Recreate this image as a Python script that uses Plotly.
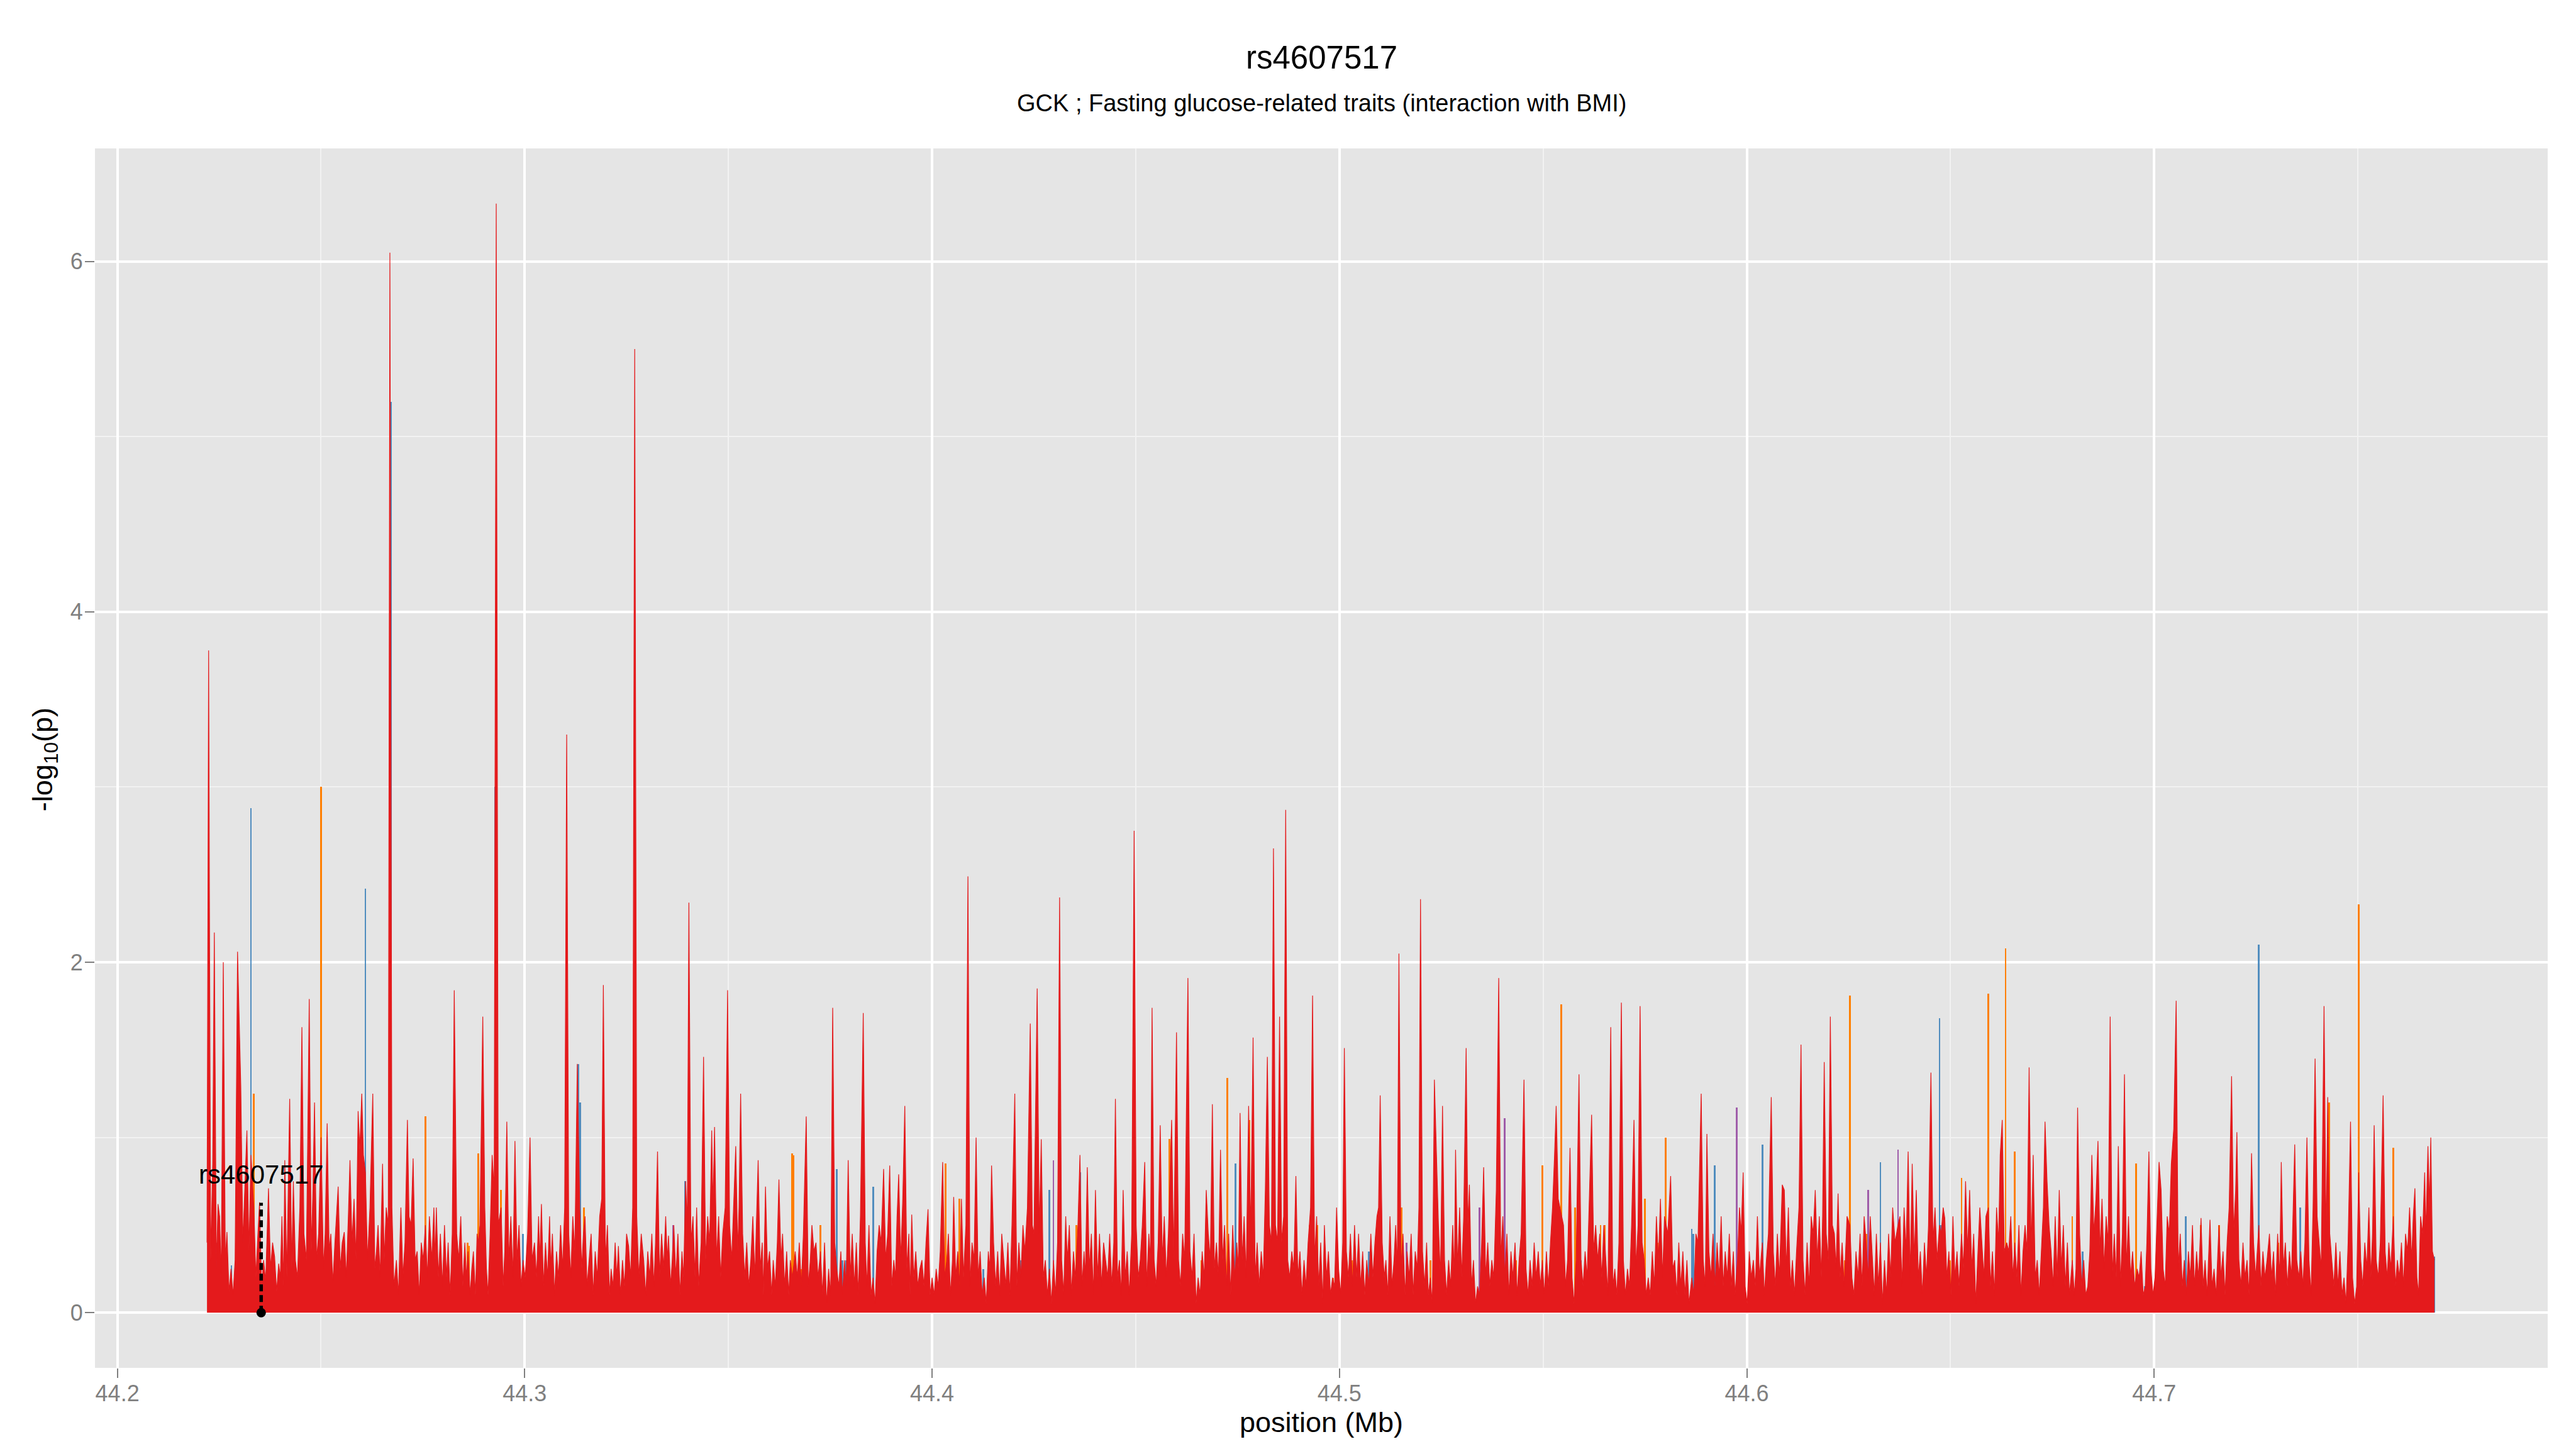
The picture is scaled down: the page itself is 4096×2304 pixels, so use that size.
import plotly.graph_objects as go

# ---------------- data ----------------
REGION_START_MB = 44.2          # positions below are kb offsets from 44.2 Mb
TITLE = "rs4607517"
SUBTITLE = "GCK ; Fasting glucose-related traits (interaction with BMI)"
X_TITLE = "position (Mb)"
Y_TITLE = "-log<sub>10</sub>(p)"
X_TICKS = [44.2, 44.3, 44.4, 44.5, 44.6, 44.7]
X_TICK_LABELS = ["44.2", "44.3", "44.4", "44.5", "44.6", "44.7"]
Y_TICKS = [0, 2, 4, 6]
Y_TICK_LABELS = ["0", "2", "4", "6"]
LEAD_SNP = "rs4607517"
LEAD_SNP_KB = 35.3
LEAD_SNP_STEM = 0.627
LEAD_LABEL_Y = 0.79

# red (low-LD) SNPs: (kb offset, -log10 p)
red_snps = [
    (22.0,.40),(22.4,3.78),(22.9,.30),(23.4,.85),(23.8,2.17),(24.3,.25),(24.7,.62),(25.1,.55),(25.5,.20),(26.0,2.00),
    (26.5,.30),(26.9,.46),(27.4,.12),(27.9,.25),(28.4,.10),(28.9,.30),(29.5,2.06),(30.3,1.29),(30.8,.40),(31.3,.70),
    (31.8,1.04),(32.3,.35),(32.8,.90),(33.5,.60),(34.0,.20),(34.5,.45),(34.9,.63),(35.4,.15),(35.9,.30),(36.4,.18),
    (37.1,.71),(37.6,.25),(38.1,.40),(38.6,.32),(39.1,.12),(39.6,.28),(40.0,.20),(40.4,.55),(40.8,.15),(41.1,.87),
    (41.6,.20),(42.3,1.22),(42.8,.25),(43.2,.75),(43.7,.30),(44.2,.20),(44.8,.60),(45.3,1.63),(45.8,.45),(46.4,.30),
    (47.1,1.79),(47.6,.35),(48.0,.70),(48.4,1.20),(48.9,.30),(49.4,.45),(50.0,1.00),(50.6,.25),(51.0,.45),(51.5,1.08),
    (52.0,.35),(52.4,.45),(52.9,.17),(53.4,.40),(53.8,.55),(54.2,.72),(54.7,.25),(55.2,.40),(55.7,.46),(56.2,.20),
    (56.7,.55),(57.1,.87),(57.6,.40),(58.1,.65),(58.6,.30),(59.1,1.15),(59.5,.93),(60.0,1.25),(60.4,.90),(60.9,.80),
    (61.4,.30),(62.0,.60),(62.7,1.25),(63.2,.25),(63.6,.35),(64.0,.50),(64.5,.20),(65.1,.85),(65.5,.30),(66.0,.60),
    (66.5,.50),(66.9,6.05),(67.4,.60),(67.9,.15),(68.5,.30),(69.0,.10),(69.6,.60),(70.1,.20),(70.6,.40),(71.2,1.10),
    (71.6,.55),(72.1,.50),(72.6,.88),(73.1,.30),(73.6,.35),(74.1,.10),(74.6,.40),(75.1,.30),(75.6,.50),(76.1,.20),
    (76.6,.55),(77.2,.30),(77.7,.60),(78.0,.30),(78.3,.60),(78.8,.20),(79.3,.45),(79.8,.15),(80.3,.50),(80.8,.20),
    (81.2,.40),(81.7,.10),(82.2,.45),(82.7,1.84),(83.3,.45),(83.8,.30),(84.3,.55),(84.8,.15),(85.3,.40),(85.7,.20),
    (86.1,.35),(86.6,.10),(87.0,.25),(87.4,.35),(87.9,.10),(88.3,.45),(88.6,.40),(89.0,.50),(89.7,1.69),(90.2,.60),
    (90.6,.25),(91.0,.10),(91.5,.45),(92.0,.90),(92.5,.70),(93.0,6.33),(93.5,.50),(94.2,.60),(94.7,.15),(95.1,.35),
    (95.6,1.09),(96.1,.30),(96.6,.55),(97.1,.20),(97.6,.98),(98.1,.30),(98.6,.50),(99.1,.15),(99.6,.30),(100.1,.20),
    (100.7,.45),(101.3,1.00),(101.8,.30),(102.4,.40),(102.9,.20),(103.4,.55),(103.7,.30),(104.1,.62),(104.6,.15),(105.1,.40),
    (105.6,.20),(106.1,.55),(106.4,.25),(106.8,.45),(107.3,.10),(107.8,.35),(108.3,.20),(108.8,.50),(109.3,.25),(109.8,.60),
    (110.3,3.30),(110.8,.45),(111.3,.20),(111.8,.55),(112.3,.35),(112.9,1.42),(113.5,.60),(114.0,.25),(114.4,.45),(114.8,.55),
    (115.3,.15),(115.8,.30),(116.3,.45),(116.8,.10),(117.3,.35),(117.8,.20),(118.4,.55),(118.9,.65),(119.3,1.87),(119.8,.30),
    (120.3,.50),(120.8,.10),(121.2,.25),(121.7,.15),(122.2,.40),(122.6,.20),(123.0,.38),(123.5,.10),(124.0,.30),(124.5,.15),
    (125.0,.45),(125.5,.38),(126.0,.20),(126.5,.60),(127.0,5.50),(127.5,.55),(128.0,.20),(128.6,.45),(129.2,.30),(129.7,.10),
    (130.2,.35),(130.7,.20),(131.2,.45),(131.7,.15),(132.1,.40),(132.6,.92),(133.1,.20),(133.6,.45),(134.1,.25),(134.6,.55),
    (135.0,.30),(135.3,.44),(135.8,.15),(136.2,.30),(136.6,.50),(137.1,.20),(137.6,.45),(138.1,.10),(138.6,.35),(139.0,.20),
    (139.5,.75),(139.9,.50),(140.3,2.34),(140.8,.40),(141.3,.55),(141.8,.20),(142.2,.60),(142.7,.15),(143.3,.40),(143.9,1.46),
    (144.4,.30),(144.9,.55),(145.4,.40),(145.9,1.04),(146.2,.60),(146.6,1.06),(147.1,.30),(147.6,.55),(148.1,.20),(148.6,.45),
    (149.2,.60),(149.8,1.84),(150.3,.50),(150.8,.30),(151.3,.60),(151.8,.95),(152.3,.35),(152.6,.60),(153.0,1.25),(153.5,.45),
    (154.0,.20),(154.5,.40),(155.0,.15),(155.5,.30),(156.0,.55),
    (156.5,.20),(157.3,.87),(157.8,.25),(158.3,.40),(158.6,.10),(159.1,.72),(159.6,.25),(160.1,.35),(160.6,.10),(161.0,.30),
    (161.5,.15),(162.0,.40),(162.4,.76),(162.9,.30),(163.3,.45),(163.8,.15),(164.3,.35),(164.8,.10),(165.2,.30),(165.7,.20),
    (166.4,.35),(166.9,.20),(167.4,.40),(167.9,.15),(168.4,.45),(169.1,1.12),(169.6,.15),(170.1,.30),(170.5,.50),(171.0,.35),
    (171.5,.40),(172.0,.20),(172.6,.35),(173.1,.10),(173.6,.40),(174.1,.05),(174.6,.25),(175.1,.10),(175.6,1.74),(176.1,.40),
    (176.6,.25),(177.1,.15),(177.6,.35),(178.0,.10),(178.5,.30),(178.9,.15),(179.4,.87),(179.9,.20),(180.4,.45),(180.9,.15),
    (181.4,.40),(181.9,.10),(182.4,.55),(183.1,1.71),(183.6,.40),(184.0,.15),(184.5,.50),(185.0,.10),(185.5,.20),(186.0,.05),
    (186.5,.35),(187.0,.50),(187.5,.40),(188.1,.82),(188.6,.30),(189.1,.45),(189.6,.84),(190.1,.15),(190.6,.30),(191.0,.20),
    (191.4,.55),(191.8,.79),(192.3,.30),(192.8,.65),(193.3,1.18),(193.8,.25),(194.3,.45),(194.6,.10),(195.0,.56),(195.5,.20),
    (196.0,.35),(196.5,.15),(197.0,.25),(197.5,.30),(198.0,.15),(198.5,.40),(199.0,.59),(199.5,.10),(200.0,.20),(200.5,.10),
    (201.0,.25),(201.5,.15),(202.0,.35),(202.6,.86),(203.1,.20),(203.6,.30),(204.0,.45),(204.5,.10),(205.0,.30),(205.3,.66),
    (205.8,.20),(206.3,.35),(206.8,.15),(207.2,.65),(207.7,.20),(208.3,.50),(208.8,2.49),(209.3,.15),(209.8,.40),(210.3,.30),
    (210.8,1.00),(211.3,.20),(211.8,.35),(212.3,.10),(212.8,.20),(213.3,.05),(213.8,.35),(214.2,.25),(214.6,.84),(215.1,.40),
    (215.6,.15),(216.1,.35),(216.6,.10),(217.1,.45),(217.6,.30),(218.1,.15),(218.6,.40),(219.1,.10),(219.6,.50),(220.3,1.25),
    (220.8,.15),(221.3,.40),(221.8,.20),(222.3,.50),(222.8,.35),(223.4,.60),(224.1,1.65),(224.6,.50),(225.0,.45),(225.8,1.85),
    (226.3,.45),(226.8,.99),(227.3,.20),(227.8,.30),(228.3,.10),(228.8,.25),(229.3,.05),(229.8,.30),(230.3,.10),(230.8,.40),
    (231.3,2.37),(231.8,.30),(232.3,.10),(232.8,.55),(233.2,.30),(233.7,.50),(234.2,.10),(234.7,.35),(235.2,.20),(235.8,.50),
    (236.3,.90),(236.8,.15),(237.3,.35),(237.6,.20),(238.1,.83),(238.6,.25),(239.1,.45),(239.6,.10),(240.1,.70),(240.6,.20),
    (241.1,.45),(241.6,.15),(242.1,.40),(242.6,.30),(243.1,.20),(243.6,.45),(244.1,.15),(244.6,.40),(245.0,1.22),(245.5,.20),
    (246.0,.30),(246.4,.10),(246.9,.70),(247.4,.20),(247.9,.35),(248.4,.10),(249.0,.45),(249.6,2.75),(250.1,.50),(250.6,.20),
    (251.1,.30),(251.6,.50),(252.2,.86),(252.7,.15),(253.2,.45),(253.6,.30),(254.0,1.74),(254.5,.30),(255.0,.15),(255.5,.40),
    (256.0,1.07),(256.5,.30),(257.0,.55),(257.5,.20),(258.0,.45),(258.8,1.10),(259.3,.30),(260.0,1.60),(260.5,.30),(261.0,.15),
    (261.5,.45),(262.0,.30),(262.8,1.91),(263.3,.35),(263.8,.20),(264.3,.45),(264.8,.05),(265.3,.20),(265.8,.10),(266.3,.35),
    (266.8,.20),(267.3,.70),(267.8,.45),(268.3,.30),(268.8,1.19),(269.3,.25),(269.8,.40),(270.3,.20),(270.8,.93),(271.3,.30),
    (271.8,.50),(272.3,.15),(272.8,.45),(273.3,.10),(273.8,.50),(274.3,.20),(274.8,.40),(275.2,.25),(275.6,1.14),(276.1,.30),
    (276.6,.55),(277.1,.20),(277.7,1.18),(278.2,.45),(278.8,1.57),(279.3,.20),(279.8,.40),(280.3,.15),(280.8,.35),(281.3,.20),
    (281.8,.70),(282.3,1.46),(282.8,.50),(283.3,.40),(283.8,2.65),(284.3,.50),(284.8,.40),(285.3,1.69),(285.8,.40),(286.3,.55),
    (286.8,2.87),(287.3,.30),(287.8,.20),(288.3,.35),(288.8,.25),(289.3,.78),(289.8,.20),(290.3,.35),(290.8,.10),(291.3,.30),
    (291.8,.15),(292.3,.40),(292.9,.60),(293.4,1.81),
    (293.9,.30),(294.4,.55),(294.9,.15),(295.4,.40),(295.9,.05),(296.3,.50),(296.8,.20),(297.3,.35),(297.8,.10),(298.3,.20),
    (298.8,.15),(299.3,.60),(299.8,.25),(300.3,.10),(300.8,.40),(301.2,1.51),(301.7,.35),(302.2,.20),(302.7,.45),(303.2,.15),
    (303.7,.50),(304.2,.20),(304.7,.45),(305.2,.15),(305.7,.35),(306.2,.10),(306.7,.30),(307.2,.15),(307.7,.45),(308.2,.20),
    (308.7,.40),(309.2,.55),(309.6,.60),(310.0,1.24),(310.5,.40),(311.0,.20),(311.4,.30),(311.9,.10),(312.4,.55),(312.9,.15),
    (313.4,.30),(313.8,.50),(314.2,.25),(314.6,2.05),(315.1,.25),(315.6,.45),(316.1,.10),(316.6,.35),(317.1,.20),(317.6,.45),
    (318.1,.10),(318.6,.35),(319.1,.25),(319.5,.60),(319.9,2.36),(320.4,.35),(320.9,.15),(321.4,.40),(321.8,.10),(322.3,.20),
    (322.8,.05),(323.3,1.33),(323.8,.90),(324.3,.50),(324.8,.20),(325.3,1.18),(325.8,.30),(326.3,.10),(326.8,.30),(327.3,.15),
    (327.8,.50),(328.2,.20),(328.5,.93),(329.0,.25),(329.5,.60),(330.0,.20),(330.5,.55),(331.1,1.51),(331.5,.50),(331.9,.73),
    (332.4,.15),(332.9,.30),(333.4,.05),(333.9,.15),(334.4,.10),(334.9,.40),(335.4,.83),(335.9,.20),(336.4,.40),(336.9,.15),
    (337.4,.30),(337.9,.20),(338.5,.70),(339.1,1.91),(339.6,.30),(340.1,.55),(340.6,.20),(341.1,.45),(341.6,.10),(342.1,.35),
    (342.6,.20),(343.1,.40),(343.6,.10),(344.1,.30),(344.6,.45),(345.3,1.33),(345.8,.25),(346.3,.10),(346.8,.30),(347.3,.15),
    (347.8,.40),(348.3,.20),(348.8,.35),(349.3,.15),(349.8,.30),(350.3,.10),(350.8,.35),(351.3,.15),(351.8,.40),(352.3,.60),
    (352.8,.90),(353.2,1.18),(353.7,.65),(354.1,.60),(355.0,.50),(355.5,.15),(356.0,.30),(356.6,.94),(357.1,.20),(357.6,.05),
    (358.1,.30),(358.8,1.36),(359.3,.30),(359.8,.15),(360.3,.35),(360.8,.20),(361.3,.65),(361.9,1.13),(362.4,.35),(362.9,.50),
    (363.4,.30),(363.9,.45),(364.4,.20),(364.9,.50),(365.4,.30),(365.9,.10),(366.6,1.63),(367.1,.15),(367.6,.25),(368.1,.10),
    (368.6,.40),(369.2,1.77),(369.7,.30),(370.2,.10),(370.7,.25),(371.2,.15),(371.7,.50),(372.3,1.10),(372.8,.25),(373.3,.50),
    (373.8,1.75),(374.3,.40),(374.8,.30),(375.3,.10),(375.8,.20),(376.3,.10),(376.8,.35),(377.3,.15),(377.8,.55),(378.3,.30),
    (378.8,.65),(379.3,.20),(379.8,.55),(380.6,.45),(381.3,.78),(381.8,.25),(382.3,.30),(382.8,.10),(383.3,.40),(383.8,.15),
    (384.3,.35),(384.8,.10),(385.3,.30),(385.8,.05),(386.5,.20),(387.0,.10),(387.5,.45),(388.0,.40),(388.8,1.25),(389.3,.30),
    (389.8,.15),(390.2,1.02),(390.7,.35),(391.2,.20),(391.7,.45),(392.2,.15),(392.7,.40),(393.2,.20),(393.7,.55),(394.2,.15),
    (394.7,.35),(395.2,.20),(395.7,.45),(396.2,.15),(396.7,.35),(397.1,.10),(397.7,.30),(398.2,.60),(398.6,.45),(399.1,.80),
    (399.6,.15),(400.1,.05),(400.6,.35),(401.1,.20),(401.6,.30),(402.1,.15),(402.6,.55),(403.1,.20),(403.8,.40),(404.3,.10),
    (404.8,.30),(405.3,.45),(406.0,1.23),(406.5,.35),(407.0,.15),(407.5,.45),(408.0,.20),(408.7,.73),(409.2,.70),(409.7,.25),
    (410.2,.60),(410.7,.15),(411.2,.30),(411.7,.10),(412.2,.35),(412.8,.60),(413.3,1.53),(413.8,.30),(414.3,.10),(414.8,.40),
    (415.3,.15),(415.8,.55),(416.3,.45),(416.8,.70),(417.3,.30),(417.8,.55),(418.3,.20),(418.6,.55),(419.0,1.43),(419.5,.45),
    (420.0,.30),(420.5,1.69),(421.0,.50),(421.5,.45),(421.9,.25),(422.4,.68),(422.9,.20),(423.4,.40),(423.9,.15),(424.6,.55),
    (425.3,.50),(425.8,.20),(426.3,.10),(426.8,.35),(427.3,.20),(427.8,.45),(428.3,.15),(428.8,.55),(429.3,.40),(429.8,.20),
    (430.3,.55),
    (430.8,.30),(431.3,.10),(431.8,.45),(432.3,.15),(432.8,.40),(433.3,.05),(433.8,.30),(434.3,.10),(434.8,.45),(435.3,.20),
    (435.8,.60),(436.4,.40),(437.1,.50),(437.6,.55),(438.1,.15),(438.6,.60),(439.1,.35),(439.6,.92),(440.1,.20),(440.6,.85),
    (441.1,.30),(441.6,.70),(442.1,.20),(442.6,.35),(443.1,.10),(443.6,.40),(444.1,.20),(444.6,.50),(445.2,1.37),(445.7,.40),
    (446.2,.60),(446.7,.30),(447.3,.50),(447.7,.45),(448.2,.60),(448.6,.54),(449.1,.20),(449.6,.35),(450.1,.10),(450.6,.55),
    (451.1,.20),(451.6,.35),(452.1,.15),(452.7,.45),(453.2,.25),(453.7,.75),(454.2,.35),(454.7,.70),(455.2,.25),(455.7,.45),
    (456.2,.05),(456.7,.30),(457.2,.60),(457.7,.40),(458.2,.20),(458.7,.55),(459.3,.60),(459.8,.15),(460.3,.35),(460.8,.10),
    (461.3,.60),(461.8,.40),(462.2,.90),(462.7,1.10),(463.2,.35),(463.8,.40),(464.3,.35),(464.8,.55),(465.3,.20),(465.8,.40),
    (466.3,.20),(466.8,.50),(467.3,.10),(467.8,.35),(468.3,.50),(468.8,.35),(469.3,1.40),(469.8,.35),(470.3,.90),(470.8,.20),
    (471.3,.30),(471.8,.10),(472.3,.35),(472.8,.60),(473.2,1.09),(473.7,.75),(474.2,.50),(474.7,.35),(475.2,.15),(475.7,.55),
    (476.2,.20),(476.7,.70),(477.2,.25),(477.7,.50),(478.2,.15),(478.7,.40),(479.2,.10),(479.9,.30),(480.4,.10),(480.8,.25),
    (481.2,1.17),(481.7,.45),(482.2,.15),(482.7,.30),(483.2,.10),(483.7,.15),(484.2,.35),(484.7,.90),(485.2,.45),(485.7,.65),
    (486.2,.98),(486.7,.35),(487.2,.65),(487.7,.25),(488.2,.55),(488.7,.40),(489.2,1.69),(489.7,.20),(490.2,.45),(490.7,.20),
    (491.2,.95),(491.7,.15),(492.2,.45),(492.7,1.36),(493.2,.25),(493.7,.55),(494.2,.20),(494.7,.35),(495.2,.15),(495.8,.25),
    (496.3,.20),(496.8,.35),(497.3,.10),(497.8,.15),(498.2,.40),(498.7,.92),(499.2,.25),(499.7,.10),(500.2,.20),(500.7,.55),
    (501.2,.86),(501.7,.70),(502.2,.25),(502.7,.15),(503.2,.55),(503.7,.45),(504.2,.85),(504.8,1.05),(505.4,1.78),(505.9,.25),
    (506.4,.45),(506.9,.15),(507.4,.30),(507.9,.10),(508.4,.35),(508.9,.20),(509.4,.50),(509.9,.15),(510.4,.35),(510.9,.20),
    (511.5,.54),(512.0,.15),(512.5,.30),(513.0,.10),(513.7,.53),(514.2,.15),(514.7,.25),(515.2,.10),(515.9,.50),(516.4,.20),
    (516.9,.35),(517.4,.10),(517.9,.40),(518.4,.60),(519.0,1.35),(519.5,.45),(520.0,.70),(520.3,1.03),(520.8,.30),(521.3,.15),
    (521.8,.40),(522.3,.20),(522.8,.30),(523.3,.10),(523.9,.91),(524.4,.40),(524.9,.20),(525.7,.50),(526.2,.15),(526.7,.35),
    (527.2,.20),(527.7,.30),(528.3,.45),(528.8,.20),(529.3,.35),(529.8,.10),(530.3,.45),(530.8,.20),(531.2,.86),(531.7,.25),
    (532.2,.40),(532.7,.15),(533.2,.35),(533.7,.20),(534.1,.55),(534.5,.96),(535.0,.30),(535.5,.20),(536.0,.35),(536.5,.15),
    (537.0,.40),(537.5,1.00),(538.0,.30),(538.5,.10),(539.0,.60),(539.5,1.45),(540.0,.55),(540.5,.40),(541.0,.25),(541.7,1.75),
    (542.2,.40),(542.6,1.23),(543.1,.45),(543.6,.30),(544.1,.15),(544.6,.40),(545.1,.15),(545.6,.35),(546.1,.10),(546.6,.20),
    (547.1,.05),(547.6,.40),(548.2,1.09),(548.7,.20),(549.2,.05),(549.7,.15),(550.2,.80),(550.7,.30),(551.2,.15),(551.7,.40),
    (552.2,.25),(552.7,.60),(553.2,.20),(553.6,.45),(554.0,1.07),(554.5,.30),(555.0,.20),(555.5,.40),(556.2,1.24),(556.7,.35),
    (557.2,.20),(557.6,.40),(558.1,.25),(558.7,.55),(559.2,.15),(559.7,.30),(560.2,.20),(560.7,.40),(561.2,.15),(561.7,.45),
    (562.2,.35),(562.7,.60),(563.2,.30),(563.6,.55),(564.0,.71),(564.5,.20),(564.9,.10),(565.4,.55),(565.9,.45),(566.4,.80),
    (566.7,.45),(567.2,.95),(567.6,.60),(567.9,1.00),(568.3,.35),(568.8,.30),
]

blue_snps = [
    (23.3,.55),(28.0,.27),(30.9,.45),(32.8,2.88),(39.7,.20),(47.3,.30),(52.1,.20),(60.9,2.42),(67.1,5.20),(92.7,3.00),
    (99.6,.45),(113.1,1.42),(113.6,1.20),(135.6,.10),(137.7,.30),(139.4,.75),(149.3,.10),(156.9,.10),
    (176.6,.82),(178.0,.30),(178.9,.30),(185.5,.72),(212.6,.25),(221.7,.30),(228.8,.70),(236.4,.80),(243.0,.15),(274.5,.85),
    (279.2,.30),(307.2,.35),(329.1,.25),(351.9,.20),(359.2,.30),(386.5,.48),(386.9,.45),(392.1,.84),(395.2,.20),(403.9,.96),
    (413.3,.30),(432.8,.86),(447.3,1.68),(447.7,.50),(452.3,.10),(468.8,.20),(482.4,.35),(486.9,.20),(497.7,.15),(507.8,.55),
    (514.4,.10),(525.1,.10),(525.7,2.10),(535.8,.60),(557.6,.30),(564.9,.10),(566.7,.45),(568.8,.32),
]

orange_snps = [
    (31.3,.30),(33.5,1.25),(42.4,.60),(50.0,3.00),(75.2,.25),(75.6,1.12),(86.0,.40),(86.3,.38),(88.6,.91),(94.1,.70),
    (106.4,.30),(114.5,.60),(140.6,.35),(159.3,.40),(165.6,.91),(166.0,.90),(167.9,.25),(172.6,.50),(180.0,.20),(188.7,.15),
    (190.9,.20),(195.4,.20),(197.2,.15),(203.3,.85),(206.7,.65),(235.4,.50),(239.6,.10),(254.7,.10),(258.3,.99),(266.1,.30),
    (269.9,.15),(272.5,1.34),(277.9,1.10),(288.2,.10),(292.7,.50),(294.5,.50),(298.5,.20),(301.6,.10),(303.1,.30),(312.5,.10),
    (315.2,.60),(322.3,.30),(343.4,.30),(349.8,.84),(354.2,.50),(354.5,1.76),(357.8,.60),(362.3,.15),(364.1,.50),(365.1,.50),
    (367.2,.10),(368.5,.15),(375.0,.65),(378.1,.40),(380.1,1.00),(387.5,.20),(389.6,.20),(405.3,.10),(415.0,.10),(416.9,.10),
    (424.1,.30),(425.3,1.81),(429.3,.45),(440.0,.20),(441.6,.20),(442.6,.10),(449.9,.30),(452.7,.77),(459.3,1.82),(460.4,.10),
    (463.0,.35),(463.5,2.08),(465.8,.92),(479.9,.55),(491.9,.10),(495.6,.85),(511.5,.50),(515.9,.50),(519.8,.35),(522.5,.10),
    (530.5,.40),(542.0,.30),(543.0,1.20),(550.2,2.33),(558.7,.94),
]

purple_snps = [
    (24.4,.40),(136.5,.50),(229.8,.87),(316.5,.40),(334.4,.60),(340.5,1.11),(397.5,1.17),(429.8,.70),(436.4,.40),(437.1,.93),
    (456.2,.05),(471.8,.10),
]

green_snps = [(399.9,.06)]

# ---------------- figure ----------------
S = 0.853
W, H = 4096, 2304
FONT = "Liberation Sans, Arial, Helvetica, sans-serif"

RED = "#E41A1C"
BLUE = "#377EB8"
ORANGE = "#FF7F00"
PURPLE = "#984EA3"
GREEN = "#4DAF4A"

# panel edges in reference pixels (4800x2700), scaled to the window
REF_L, REF_R, REF_T, REF_B = 168, 4740, 267, 2541
pl, pr = REF_L * S, REF_R * S
pt, pb = REF_T * S, REF_B * S


def px_x(ref_x):   # reference x pixel -> paper x
    return (ref_x - REF_L) / (REF_R - REF_L)


def px_y(ref_y):   # reference y pixel -> paper y
    return (REF_B - ref_y) / (REF_B - REF_T)


def to_mb(kb_list):
    return [REGION_START_MB + k / 1000.0 for k in kb_list]


fig = go.Figure()

fig.add_trace(go.Scatter(
    x=to_mb([p for p, v in red_snps]), y=[v for p, v in red_snps],
    mode="lines", fill="tozeroy", fillcolor=RED,
    line=dict(color=RED, width=1.2), hoverinfo="skip", showlegend=False,
))

bar_w = 0.00042
for snps, col, op in [(orange_snps, ORANGE, 1.0), (blue_snps, BLUE, 0.85),
                      (purple_snps, PURPLE, 0.9), (green_snps, GREEN, 1.0)]:
    fig.add_trace(go.Bar(
        x=to_mb([p for p, v in snps]), y=[v for p, v in snps],
        width=bar_w, marker=dict(color=col, line=dict(width=0)),
        opacity=op, hoverinfo="skip", showlegend=False,
    ))

# lead SNP marker: dashed stem + point
lead_x = REGION_START_MB + LEAD_SNP_KB / 1000.0
fig.add_trace(go.Scatter(
    x=[lead_x, lead_x], y=[0, LEAD_SNP_STEM], mode="lines",
    line=dict(color="black", width=5.5, dash="11px,6px"),
    hoverinfo="skip", showlegend=False,
))
fig.add_trace(go.Scatter(
    x=[lead_x], y=[0], mode="markers",
    marker=dict(color="black", size=15, line=dict(width=0)),
    hoverinfo="skip", showlegend=False,
))
fig.add_annotation(
    x=lead_x, y=LEAD_LABEL_Y, xref="x", yref="y", text=LEAD_SNP,
    showarrow=False, yanchor="middle", xanchor="center",
    font=dict(family=FONT, size=42, color="black"),
)

mid = 0.5
fig.add_annotation(
    x=mid, y=px_y(97), xref="paper", yref="paper", text=TITLE,
    showarrow=False, xanchor="center", yanchor="middle",
    font=dict(family=FONT, size=51, color="black"),
)
fig.add_annotation(
    x=mid, y=px_y(182), xref="paper", yref="paper", text=SUBTITLE,
    showarrow=False, xanchor="center", yanchor="middle",
    font=dict(family=FONT, size=38, color="black"),
)
fig.add_annotation(
    x=mid, y=px_y(2642), xref="paper", yref="paper", text=X_TITLE,
    showarrow=False, xanchor="center", yanchor="middle",
    font=dict(family=FONT, size=45, color="black"),
)
fig.add_annotation(
    x=px_x(73), y=px_y(1406), xref="paper", yref="paper",
    text=Y_TITLE, textangle=-90, showarrow=False,
    xanchor="center", yanchor="middle",
    font=dict(family=FONT, size=45, color="black"),
)

grid_major = dict(showgrid=True, gridcolor="white", gridwidth=4.2)
fig.update_layout(
    width=W, height=H,
    margin=dict(l=pl, r=W - pr, t=pt, b=H - pb, pad=0),
    paper_bgcolor="white", plot_bgcolor="#E5E5E5",
    barmode="overlay", bargap=0,
    font=dict(family=FONT),
    xaxis=dict(
        range=[44.1945, 44.7966], tickvals=X_TICKS, ticktext=X_TICK_LABELS,
        ticks="outside", ticklen=15, tickwidth=2, tickcolor="#7F7F7F",
        tickfont=dict(family=FONT, size=36, color="#7F7F7F"),
        zeroline=False, showline=False,
        minor=dict(dtick=0.05, tick0=44.15, showgrid=True, gridcolor="#F2F2F2", gridwidth=2, ticks=""),
        **grid_major,
    ),
    yaxis=dict(
        range=[-0.315, 6.645], tickvals=Y_TICKS, ticktext=Y_TICK_LABELS,
        ticks="outside", ticklen=15, tickwidth=2, tickcolor="#7F7F7F",
        tickfont=dict(family=FONT, size=36, color="#7F7F7F"),
        zeroline=False, showline=False,
        minor=dict(dtick=1, tick0=1, showgrid=True, gridcolor="#F2F2F2", gridwidth=2, ticks=""),
        **grid_major,
    ),
)

try:
    fig.update_layout(xaxis_ticklabelstandoff=-6, yaxis_ticklabelstandoff=-4)
except Exception:
    pass

fig.write_html("out.html")
